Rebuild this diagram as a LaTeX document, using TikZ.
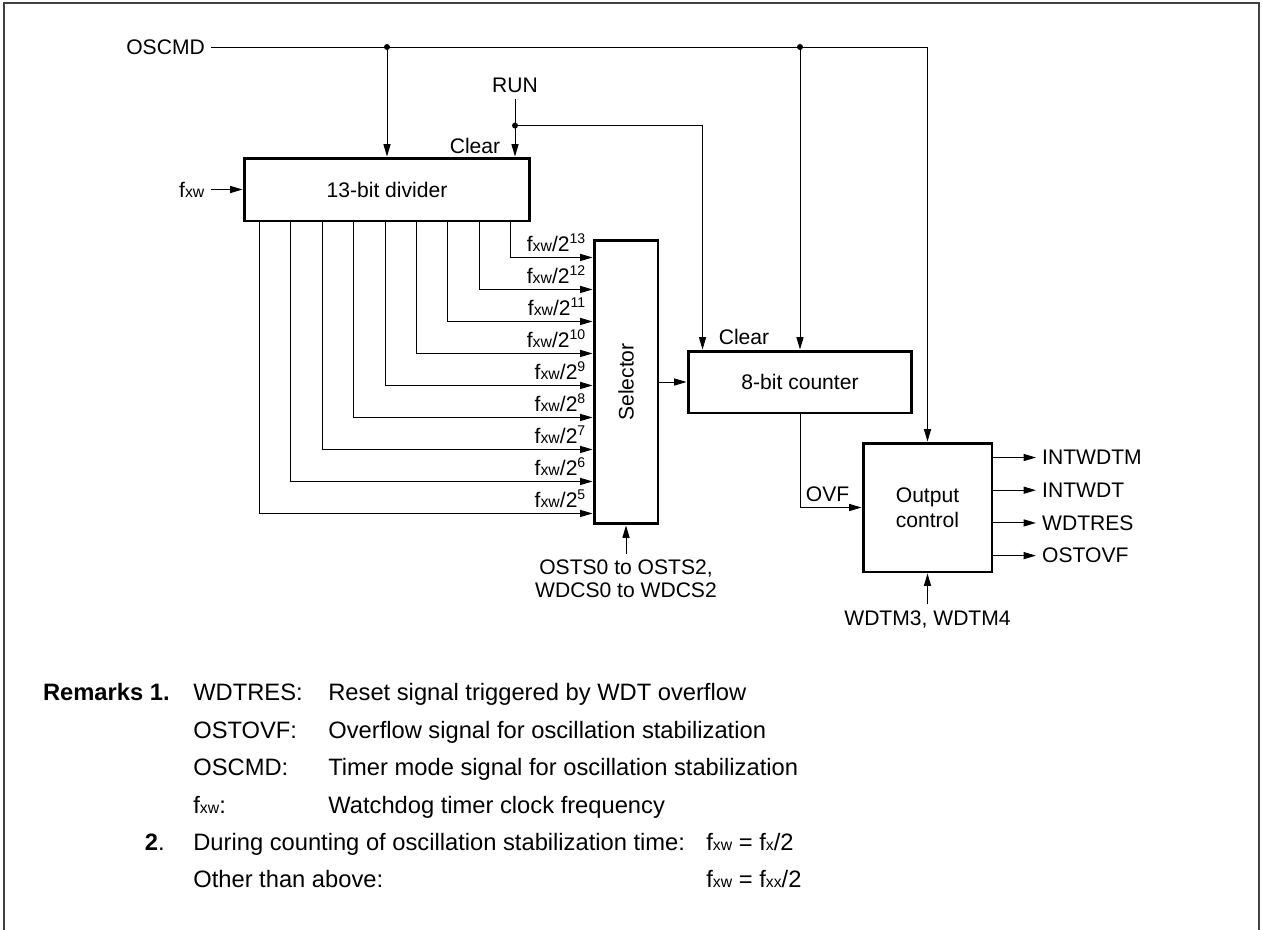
\documentclass[tikz,border=0pt]{standalone}
\usepackage{fontspec}
\setmainfont{Liberation Sans}
\usepackage{tikz}
\usetikzlibrary{positioning,arrows.meta}

\newcommand{\fxw}{f{\small xw}}

\begin{document}
\begin{tikzpicture}[
    x=0.02cm, y=-0.02cm,
    font=\fontsize{12}{14.5}\selectfont,
    >={Triangle[length=7pt,width=4pt]},
    box/.style={draw, rectangle, line width=1.7pt, align=center, inner sep=0pt},
    wire/.style={line width=0.55pt},
    remark/.style={anchor=base west, inner sep=0pt, font=\fontsize{13.5}{16}\selectfont}
  ]
    \useasboundingbox (0,0) rectangle (1262,930);
    % Frame
    \draw[line width=0.8pt, black!75] (4,930) -- (4,3) -- (1259,3) -- (1259,930);

    % Blocks
    \node[box, minimum width=5.72cm, minimum height=1.26cm] (divider) at (387,189.5) {13-bit divider};
    \node[box, minimum width=1.28cm, minimum height=5.68cm] (selector) at (626,382) {\rotatebox{90}{Selector}};
    \node[box, minimum width=4.48cm, minimum height=1.24cm] (counter) at (800,382) {8-bit counter};
    \node[box, minimum width=2.58cm, minimum height=2.58cm] (outctl) at (927.5,507.5) {Output\\control};

    % Inputs
    \node[anchor=east] (oscmd) at (211,47) {OSCMD};
    \node (run) at (515,85) {RUN};
    \node[left=0.64cm of divider] (fxw) {\fxw};
    \node (clrdiv) at (475,146) {Clear};
    \node (clrcnt) at (744,337) {Clear};
    \node[align=center, below=0.57cm of selector, font=\fontsize{12}{13}\selectfont] (osts) {OSTS0 to OSTS2,\\WDCS0 to WDCS2};
    \node[below=0.62cm of outctl] (wdtm) {WDTM3, WDTM4};
    \node[anchor=south east] (ovf) at ([xshift=-0.12cm]outctl.west) {OVF};

    % OSCMD
    \coordinate (j1) at (divider.north |- oscmd.east);
    \coordinate (j2) at (counter.north |- oscmd.east);
    \draw[wire,->] (oscmd.east) -| (outctl.north);
    \draw[wire,->] (j1) -- (divider);
    \draw[wire,->] (j2) -- (counter);
    \fill (j1) circle (1.7pt) (j2) circle (1.7pt);

    % RUN
    \coordinate (rj) at ([yshift=0.62cm]run |- divider.north);
    \draw[wire,->] (run) -- (run |- divider.north);
    \draw[wire,->] (rj) -| ([xshift=0.32cm]counter.north west);
    \fill (rj) circle (1.7pt);

    % Divider taps
    \draw[wire,->] (fxw) -- (divider);
    \foreach \k in {0,...,8} {
      \pgfmathtruncatemacro\n{5+\k}
      \draw[wire,->] ([xshift={(17+31.4*\k)*0.02cm}]divider.south west) |- ([yshift={(12+32*\k)*0.02cm}]selector.south west);
      \node[anchor=base east, inner sep=0pt] (f\n) at ([xshift=-0.12cm, yshift={(18+32*\k)*0.02cm}]selector.south west) {\fxw/2\textsuperscript{\n}};
    }

    \draw[wire,->] (selector) -- (counter);
    \draw[wire,->] (osts) -- (selector);
    \draw[wire,->] (counter) |- (outctl);
    \draw[wire,->] (wdtm) -- (outctl);

    % Outputs
    \foreach \sig/\nm [count=\i] in {INTWDTM/intwdtm, INTWDT/intwdt, WDTRES/wdtres, OSTOVF/ostovf} {
      \node[anchor=west] (\nm) at ([xshift=0.85cm, yshift={-(16+32.7*(\i-1))*0.02cm}]outctl.north east) {\sig};
      \draw[wire,->] (outctl.east |- \nm) -- (\nm);
    }

    % Remarks
    \node[remark, anchor=base east, font=\fontsize{13.5}{16}\selectfont\bfseries] (rem1) at (170,700.5) {Remarks 1.};
    \foreach \key/\txt [count=\i] in {WDTRES:/Reset signal triggered by WDT overflow,
        OSTOVF:/Overflow signal for oscillation stabilization,
        OSCMD:/Timer mode signal for oscillation stabilization,
        \fxw:/Watchdog timer clock frequency} {
      \pgfmathsetmacro\yy{700.5+37.5*(\i-1)}
      \node[remark] (key\i) at (193,\yy) {\key};
      \node[remark] (txt\i) at (328,\yy) {\txt};
    }
    \node[remark, anchor=base east] (rem2) at (165,850.5) {\textbf{2}.};
    \node[remark] (during) at (193,850.5) {During counting of oscillation stabilization time:};
    \node[remark] (eq1) at (706,850.5) {\fxw{} = f{\small x}/2};
    \node[remark] (other) at (193,887.5) {Other than above:};
    \node[remark] (eq2) at (706,887.5) {\fxw{} = f{\small xx}/2};

  \end{tikzpicture}
\end{document}
